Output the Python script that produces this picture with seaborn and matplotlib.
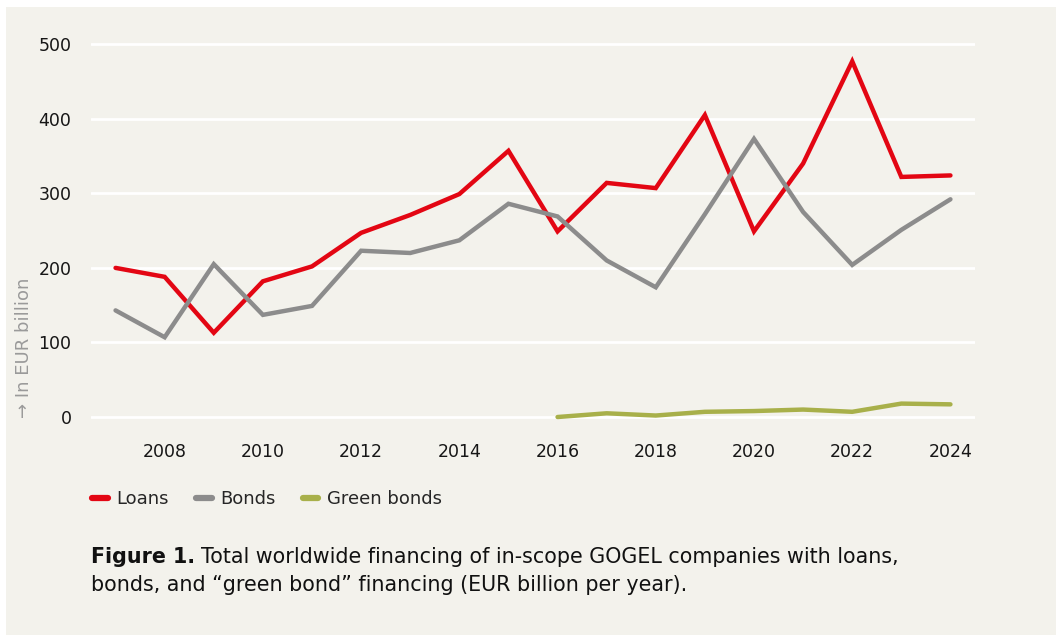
import matplotlib
matplotlib.use("Agg")
import matplotlib.pyplot as plt
from matplotlib.patches import Rectangle
from matplotlib.lines import Line2D
import seaborn as sns
import pandas as pd

# Annual financing, EUR billion
years = list(range(2007, 2025))
loans = [200, 188, 113, 182, 202, 247, 271, 299, 357, 249, 314, 307, 405, 249, 340, 477, 322, 324]
bonds = [143, 107, 205, 137, 149, 223, 220, 237, 286, 269, 210, 174, 272, 373, 275, 204, 251, 292]
green_years = list(range(2016, 2025))
green_bonds = [0, 5, 2, 7, 8, 10, 7, 18, 17]

series_names = ["Loans", "Bonds", "Green bonds"]
palette = {"Loans": "#E30613", "Bonds": "#8C8C8C", "Green bonds": "#A8B04A"}
x_ticks = list(range(2008, 2025, 2))
y_ticks = [0, 100, 200, 300, 400, 500]

df = pd.concat([
    pd.DataFrame({"year": years, "value": loans, "series": "Loans"}),
    pd.DataFrame({"year": years, "value": bonds, "series": "Bonds"}),
    pd.DataFrame({"year": green_years, "value": green_bonds, "series": "Green bonds"}),
], ignore_index=True)

sns.set_theme(style="white")
plt.rcParams["font.family"] = ["DejaVu Sans"]

BG = "#F3F2EC"
INK = "#161616"
W, H = 1056, 635
fig = plt.figure(figsize=(W / 100, H / 100), dpi=100, facecolor="white")
fig.patches.append(Rectangle((6 / W, -0.01), 1.01, 1.01 - 7 / H, transform=fig.transFigure,
                             facecolor=BG, edgecolor="none", zorder=-10))

ax = fig.add_axes([91 / W, 1 - 425 / H, (975 - 91) / W, (425 - 36) / H])
ax.set_facecolor(BG)

sns.lineplot(data=df, x="year", y="value", hue="series", hue_order=series_names,
             palette=palette, linewidth=3.2, ax=ax, legend=False,
             solid_capstyle="round", solid_joinstyle="miter")

ax.set_xlim(2006.5, 2024.5)
ax.set_ylim(-10.7, 511)
ax.set_xticks(x_ticks)
ax.set_yticks(y_ticks)
ax.set_xticklabels([str(t) for t in x_ticks], fontsize=12.5, color=INK)
ax.set_yticklabels([str(t) for t in y_ticks], fontsize=12.5, color=INK)
ax.yaxis.grid(True, color="white", linewidth=2)
ax.set_axisbelow(True)
for s in ax.spines.values():
    s.set_visible(False)
ax.tick_params(axis="x", length=7, width=1.5, color="white", pad=6, direction="out")
ax.tick_params(axis="y", length=0, pad=14)
ax.set_xlabel("")
ax.set_ylabel("")

# rotated unit label
fig.text(24 / W, 1 - 418 / H, "→ In EUR billion", rotation=90, ha="center", va="bottom",
         fontsize=13, color="#9a9a9a")

# legend
handles = [Line2D([0], [0], color=palette[n], linewidth=4.5, solid_capstyle="round") for n in series_names]
fig.legend(handles, series_names, loc="center left", bbox_to_anchor=(76 / W, 1 - 499 / H),
           ncol=3, frameon=False, handlelength=0.85, handletextpad=0.5,
           columnspacing=1.5, prop={"size": 13})

# caption: bold lead-in followed by regular text
fs = 14.9
t1 = fig.text(91 / W, 1 - 557 / H, "Figure 1.", fontsize=fs, fontweight="bold",
              ha="left", va="center", color="#111111")
fig.canvas.draw()
bb = t1.get_window_extent(renderer=fig.canvas.get_renderer())
fig.text((bb.x1 + 6) / W, 1 - 557 / H,
         "Total worldwide financing of in-scope GOGEL companies with loans,",
         fontsize=fs, ha="left", va="center", color="#111111")
fig.text(91 / W, 1 - 585 / H, "bonds, and \u201cgreen bond\u201d financing (EUR billion per year).",
         fontsize=fs, ha="left", va="center", color="#111111")

fig.savefig("out.png", dpi=100, facecolor=fig.get_facecolor())
